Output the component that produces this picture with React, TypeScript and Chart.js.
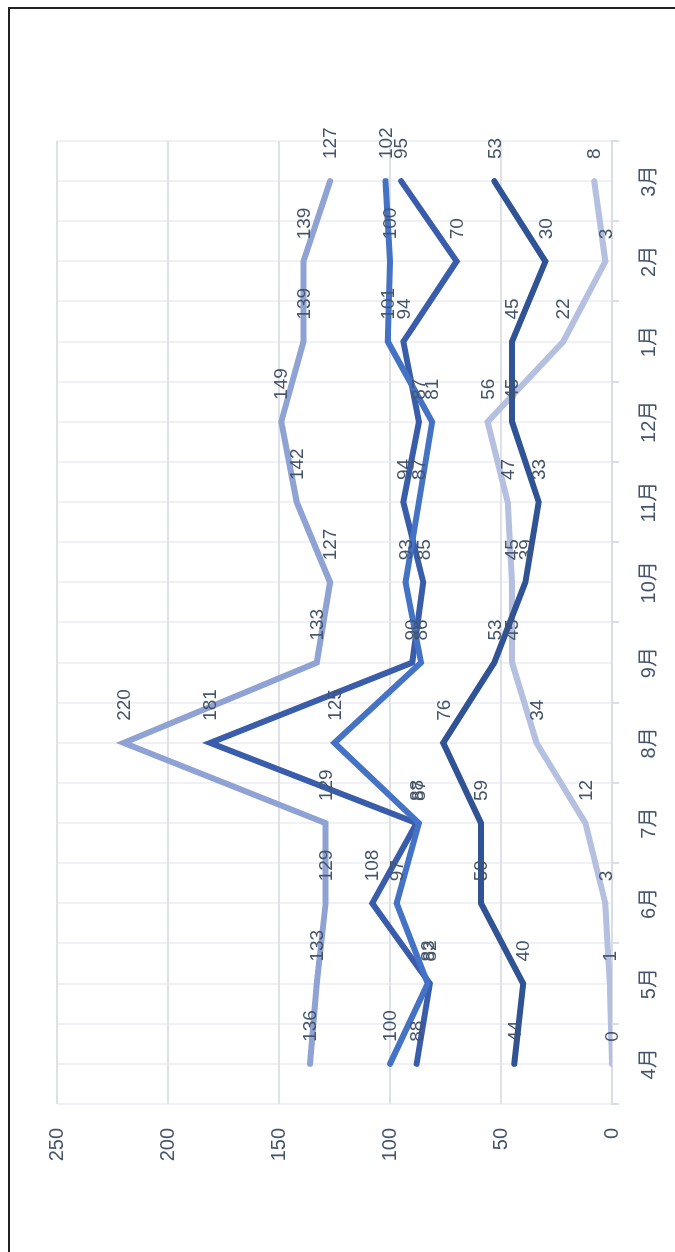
import React, { useEffect, useRef } from "react";
import { Chart, registerables } from "chart.js";

Chart.register(...registerables);

const months = ["4月", "5月", "6月", "7月", "8月", "9月", "10月", "11月", "12月", "1月", "2月", "3月"];
const seriesBright = [100, 83, 97, 87, 125, 86, 93, 87, 81, 101, 100, 102];
const seriesDark = [88, 82, 108, 88, 181, 90, 85, 94, 87, 94, 70, 95];
const seriesTop = [136, 133, 129, 129, 220, 133, 127, 142, 149, 139, 139, 127];
const seriesNavy = [44, 40, 59, 59, 76, 53, 39, 33, 45, 45, 30, 53];
const seriesLight = [0, 1, 3, 12, 34, 45, 45, 47, 56, 22, 3, 8];
const valueTicks = [0, 50, 100, 150, 200, 250];

const TEXT = "#44546A";
const FONT = "'Liberation Sans', 'Noto Sans CJK JP', sans-serif";

const labelPlugin = {
  id: "pointLabels",
  afterDatasetsDraw(chart: any) {
    const ctx = chart.ctx;
    ctx.save();
    ctx.font = `19px ${FONT}`;
    ctx.fillStyle = TEXT;
    ctx.textAlign = "left";
    ctx.textBaseline = "middle";
    const n = chart.data.datasets.length;
    for (let d = n - 1; d >= 0; d--) {
      const meta = chart.getDatasetMeta(d);
      const ds = chart.data.datasets[d];
      meta.data.forEach((pt: any, i: number) => {
        ctx.fillText(String(ds.data[i]), pt.x + 22, pt.y + 1);
      });
    }
    ctx.restore();
  },
};

export default function App() {
  const ref = useRef<HTMLCanvasElement | null>(null);
  useEffect(() => {
    if (!ref.current) return;
    const mk = (label: string, data: number[], color: string) => ({
      label,
      data,
      borderColor: color,
      backgroundColor: color,
      borderWidth: 6,
      pointRadius: 0,
      pointHoverRadius: 0,
      tension: 0,
      borderCapStyle: "round" as const,
      borderJoinStyle: "miter" as const,
      fill: false,
    });
    const chart = new Chart(ref.current, {
      type: "line",
      data: {
        labels: months,
        datasets: [
          mk("A", seriesBright, "#4472C4"),
          mk("B", seriesDark, "#3A5DAB"),
          mk("C", seriesTop, "#8FA2D4"),
          mk("D", seriesNavy, "#2F5394"),
          mk("E", seriesLight, "#B5C0E1"),
        ],
      },
      options: {
        animation: false,
        responsive: false,
        maintainAspectRatio: false,
        devicePixelRatio: 1,
        layout: { padding: { left: 0, top: 57, right: 141, bottom: 0 } },
        plugins: { legend: { display: false }, tooltip: { enabled: false }, title: { display: false } },
        scales: {
          x: {
            type: "category",
            position: "bottom",
            offset: true,
            grid: {
              offset: true,
              color: "#EFF1F4",
              lineWidth: 2,
              drawTicks: true,
              tickLength: 7,
              tickColor: "#D9DDE6",
              tickWidth: 2,
            },
            border: { display: true, color: "#D9DDE6", width: 2 },
            ticks: {
              color: TEXT,
              font: { family: FONT, size: 20 },
              padding: 18,
              maxRotation: 0,
              minRotation: 0,
              autoSkip: false,
            },
            afterFit: (s: any) => {
              s.height = 63;
            },
          },
          x2: {
            type: "category",
            position: "top",
            offset: true,
            grid: { offset: false, color: "#EFF1F4", lineWidth: 2, drawTicks: false },
            border: { display: false },
            ticks: { display: false },
            afterFit: (s: any) => {
              s.height = 0;
            },
          },
          y: {
            type: "linear",
            min: 0,
            max: 250,
            afterBuildTicks: (s: any) => {
              s.ticks = valueTicks.map((v) => ({ value: v }));
            },
            grid: { color: "#DEE1E8", lineWidth: 2, drawTicks: false },
            border: { display: false },
            ticks: {
              color: TEXT,
              font: { family: FONT, size: 20 },
              padding: 24,
            },
            afterFit: (s: any) => {
              s.width = 148;
            },
          },
        },
      },
      plugins: [labelPlugin],
    } as any);
    return () => chart.destroy();
  }, []);

  return (
    <div
      style={{
        position: "fixed",
        left: 0,
        top: 0,
        width: 675,
        height: 1252,
        overflow: "hidden",
        background: "#ffffff",
      }}
    >
      <div
        style={{
          position: "absolute",
          left: 0,
          top: 0,
          width: 1252,
          height: 675,
          transformOrigin: "0 0",
          transform: "translateY(1252px) rotate(-90deg)",
        }}
      >
        <canvas ref={ref} width={1252} height={675} style={{ width: 1252, height: 675, display: "block" }} />
      </div>
      <div style={{ position: "absolute", left: 8, top: 7, width: 2, height: 1245, background: "#222" }} />
      <div style={{ position: "absolute", left: 8, top: 7, width: 667, height: 2, background: "#222" }} />
    </div>
  );
}
